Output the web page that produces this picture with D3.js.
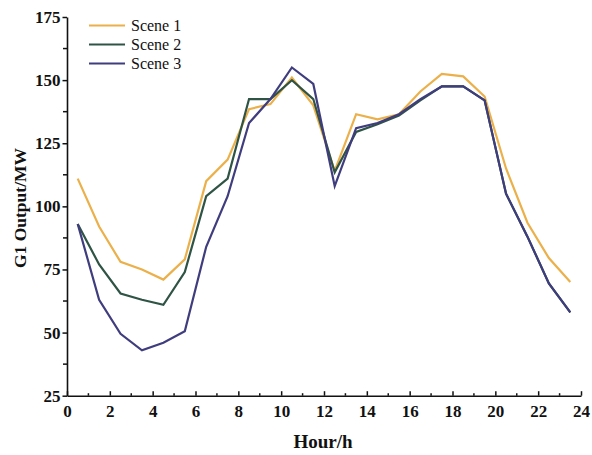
<!DOCTYPE html>
<html>
<head>
<meta charset="utf-8">
<script src="https://cdn.jsdelivr.net/npm/d3@7"></script>
<style>
  html, body { margin: 0; padding: 0; background: #fff; }
  svg { display: block; }
  text { font-family: "Liberation Serif", "Times New Roman", serif; }
</style>
</head>
<body>
<svg id="chart" width="592" height="455"></svg>
<script>
const hours = [0.5,1.5,2.5,3.5,4.5,5.5,6.5,7.5,8.5,9.5,10.5,11.5,12.5,13.5,14.5,15.5,16.5,17.5,18.5,19.5,20.5,21.5,22.5,23.5];
const scene1 = [111,92,78,75,71,79,110,118.5,138.5,140.5,151,140,114,136.5,134.5,136.5,145.5,152.5,151.5,143.5,115,93.5,79.5,70];
const scene2 = [93,77,65.5,63,61,74,104,111,142.5,142.5,150,142.5,113.5,129.5,132.5,136,142,147.5,147.5,142,105,88,69.5,58];
const scene3 = [93,63,49.5,43,46,50.5,84,104,133,142.5,155,148.5,108,131,133,136.5,142.5,147.5,147.5,142,105,88,69.5,58];
const seriesNames = ["Scene 1","Scene 2","Scene 3"];
const seriesColors = ["#EBB04A","#2F5446","#3F3D7E"];
const xTicks = [0,2,4,6,8,10,12,14,16,18,20,22,24];
const xMinorTicks = [1,3,5,7,9,11,13,15,17,19,21,23];
const yTicks = [25,50,75,100,125,150,175];
const yMinorTicks = [37.5,62.5,87.5,112.5,137.5,162.5];
const xTitle = "Hour/h";
const yTitle = "G1 Output/MW";

const series = [scene1, scene2, scene3];
const svg = d3.select("#chart");
const x = d3.scaleLinear().domain([0,24]).range([67,581]);
const y = d3.scaleLinear().domain([25,175]).range([395.7,17]);

// lines
const line = d3.line().x((d,i) => x(hours[i])).y(d => y(d));
series.forEach((s, k) => {
  svg.append("path").datum(s)
    .attr("fill","none")
    .attr("stroke", seriesColors[k])
    .attr("stroke-width", 2.2)
    .attr("stroke-linejoin","miter")
    .attr("d", line);
});

// x axis
const xAxis = d3.axisBottom(x).tickValues(xTicks).tickSizeInner(-4.5).tickSizeOuter(0).tickPadding(9).tickFormat(d3.format("d"));
const gx = svg.append("g").attr("transform", `translate(0,${y(25)})`).call(xAxis);
gx.selectAll("text").attr("font-size", 17).attr("font-weight", "bold").attr("fill", "#111");
gx.selectAll("line").attr("stroke", "#111").attr("stroke-width", 1.5);
gx.select(".domain").attr("stroke", "#111").attr("stroke-width", 1.6);
gx.append("g").selectAll("line").data(xMinorTicks).join("line")
  .attr("x1", d => x(d)).attr("x2", d => x(d)).attr("y1", 0).attr("y2", -2.5)
  .attr("stroke", "#111").attr("stroke-width", 1.5);

// y axis
const yAxis = d3.axisLeft(y).tickValues(yTicks).tickSizeInner(4.5).tickSizeOuter(0).tickPadding(2).tickFormat(d3.format("d"));
const gy = svg.append("g").attr("transform", `translate(${x(0)},0)`).call(yAxis);
gy.selectAll("text").attr("font-size", 17).attr("font-weight", "bold").attr("fill", "#111");
gy.selectAll("line").attr("stroke", "#111").attr("stroke-width", 1.5);
gy.select(".domain").attr("stroke", "#111").attr("stroke-width", 1.6);
gy.append("g").selectAll("line").data(yMinorTicks).join("line")
  .attr("x1", 0).attr("x2", -4).attr("y1", d => y(d)).attr("y2", d => y(d))
  .attr("stroke", "#111").attr("stroke-width", 1.5);

// axis titles
svg.append("text").attr("x", 323).attr("y", 448)
  .attr("text-anchor","middle").attr("font-size", 19).attr("font-weight","bold").attr("fill","#111")
  .text(xTitle);
svg.append("text").attr("transform", "translate(26,208) rotate(-90)")
  .attr("text-anchor","middle").attr("font-size", 17.5).attr("font-weight","bold").attr("fill","#111")
  .text(yTitle);

// legend
const lg = svg.append("g");
seriesNames.forEach((n, k) => {
  const ly = 25.5 + k * 19;
  lg.append("line").attr("x1", 89).attr("x2", 125).attr("y1", ly).attr("y2", ly)
    .attr("stroke", seriesColors[k]).attr("stroke-width", 2.2);
  lg.append("text").attr("x", 131).attr("y", ly).attr("dy", "0.35em")
    .attr("font-size", 16).attr("fill", "#111").text(n);
});
</script>
</body>
</html>
